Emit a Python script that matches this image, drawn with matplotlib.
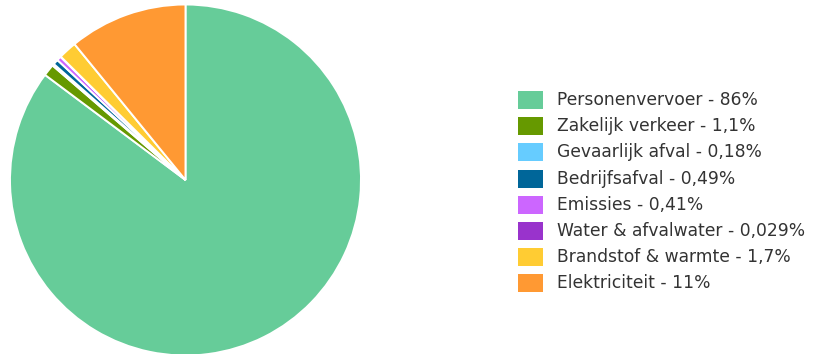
import matplotlib
matplotlib.use('Agg')
import matplotlib.pyplot as plt
from matplotlib.patches import Rectangle

categories = ['Personenvervoer', 'Zakelijk verkeer', 'Gevaarlijk afval', 'Bedrijfsafval',
              'Emissies', 'Water & afvalwater', 'Brandstof & warmte', 'Elektriciteit']
values = [86, 1.1, 0.18, 0.49, 0.41, 0.029, 1.7, 11]
labels = ['86%', '1,1%', '0,18%', '0,49%', '0,41%', '0,029%', '1,7%', '11%']
colors = ['#66CC99', '#669900', '#66CCFF', '#006699', '#CC66FF', '#9933CC', '#FFCC33', '#FF9933']

W, H = 816, 354
fig = plt.figure(figsize=(W / 100, H / 100), dpi=100)
fig.patch.set_facecolor('white')

# pie: centre (185.5, 180) px from top, radius 175.5 px
cx, cy, r = 185.5, 180, 175.5
ax = fig.add_axes([(cx - r) / W, (H - cy - r) / H, 2 * r / W, 2 * r / H])
ax.pie(values, colors=colors, startangle=90, counterclock=False, radius=1,
       wedgeprops=dict(edgecolor='white', linewidth=1.4))
ax.set_xlim(-1, 1)
ax.set_ylim(-1, 1)
ax.set_aspect('equal')
ax.axis('off')

# legend drawn by hand
y0, dy = 100, 26.2
for i, (cat, lab, c) in enumerate(zip(categories, labels, colors)):
    y = y0 + i * dy
    fig.patches.append(Rectangle((518 / W, (H - y - 9) / H), 25 / W, 18 / H,
                                 transform=fig.transFigure, facecolor=c,
                                 edgecolor='none'))
    fig.text(557 / W, (H - y) / H, f'{cat} - {lab}', fontsize=12.3,
             color='#333333', va='center', ha='left')

fig.savefig('out.png', dpi=100, facecolor='white')
